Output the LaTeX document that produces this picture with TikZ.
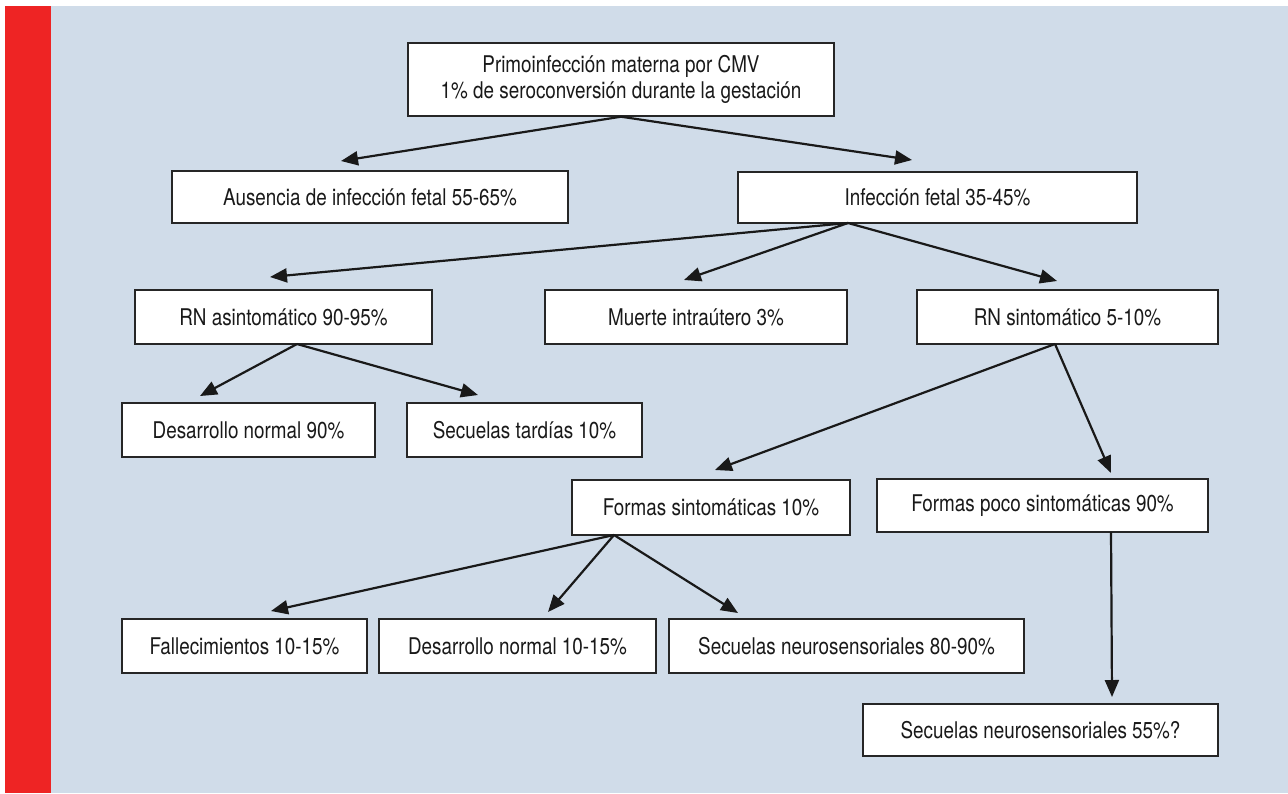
\documentclass[tikz,border=0pt]{standalone}
\usepackage{fontspec}
\setmainfont[FakeStretch=0.82]{TeX Gyre Heros}
\usetikzlibrary{arrows.meta}

\definecolor{fondo}{RGB}{208,220,233}
\definecolor{barra}{RGB}{238,36,36}

\begin{document}
\begin{tikzpicture}[x=0.5pt, y=-0.5pt,
	caja/.style={draw=black!85, fill=white, line width=0.7pt, inner sep=0pt, align=center,
		font=\fontsize{11.5}{13}\selectfont, text=black!90},
	flecha/.style={-{Triangle[length=8.5pt,width=7pt]}, line width=1.1pt, black!90}]
	\useasboundingbox (0,0) rectangle (1288,793);
	\fill[white] (0,0) rectangle (1288,793);
	\fill[barra] (5,6) rectangle (51,793);
	\fill[fondo] (51,6) rectangle (1288,793);
	% cajas
	\node [caja, minimum width=213pt, minimum height=36.5pt] (1) at (621,79.5){Primoinfección materna por CMV\\1\% de seroconversión durante la gestación};
	\node [caja, minimum width=198pt, minimum height=26pt] (2) at (370,197){Ausencia de infección fetal 55-65\%};
	\node [caja, minimum width=199.5pt, minimum height=25.5pt] (3) at (937.5,197.5){Infección fetal 35-45\%};
	\node [caja, minimum width=148.5pt, minimum height=27pt] (4) at (283.5,317){RN asintomático 90-95\%};
	\node [caja, minimum width=151pt, minimum height=27pt] (5) at (696,317){Muerte intraútero 3\%};
	\node [caja, minimum width=150.5pt, minimum height=27pt] (6) at (1067.5,317){RN sintomático 5-10\%};
	\node [caja, minimum width=126.5pt, minimum height=27pt] (7) at (248.5,430){Desarrollo normal 90\%};
	\node [caja, minimum width=117.5pt, minimum height=27pt] (8) at (524.5,430){Secuelas tardías 10\%};
	\node [caja, minimum width=139pt, minimum height=27.5pt] (9) at (711,507.5){Formas sintomáticas 10\%};
	\node [caja, minimum width=165.5pt, minimum height=26.5pt] (10) at (1042.5,505.5){Formas poco sintomáticas 90\%};
	\node [caja, minimum width=122.5pt, minimum height=27pt] (11) at (244.5,646){Fallecimientos 10-15\%};
	\node [caja, minimum width=138.5pt, minimum height=27pt] (12) at (517.5,646){Desarrollo normal 10-15\%};
	\node [caja, minimum width=177.5pt, minimum height=27pt] (13) at (846.5,646){Secuelas neurosensoriales 80-90\%};
	\node [caja, minimum width=177.5pt, minimum height=26pt] (14) at (1040.5,730){Secuelas neurosensoriales 55\%?};
	% salidas
	\coordinate (o1) at (1.south);
	\coordinate (o3) at (848,223);
	\coordinate (o4) at (297,344);
	\coordinate (o6) at (1055,344);
	\coordinate (o9) at (614,535);
	\coordinate (o10) at (1111,532);
	% puntas
	\coordinate (t2) at (341,161);
	\coordinate (t3) at (912,160);
	\coordinate (t4) at (270,277);
	\coordinate (t5) at (684,280);
	\coordinate (t6) at (1057,281);
	\coordinate (t7) at (200,396);
	\coordinate (t8) at (478,395);
	\coordinate (t9) at (715,470);
	\coordinate (t10) at (1111,473);
	\coordinate (t11) at (271,611);
	\coordinate (t12) at (548,612);
	\coordinate (t13) at (738,613);
	\coordinate (t14) at (1112,697);
\foreach \from/\to in {o1/t2, o1/t3, o3/t4, o3/t5, o3/t6, o4/t7, o4/t8, o6/t9, o6/t10, o9/t11, o9/t12, o9/t13, o10/t14}
\draw [flecha] (\from)--(\to);
\end{tikzpicture}
\end{document}
